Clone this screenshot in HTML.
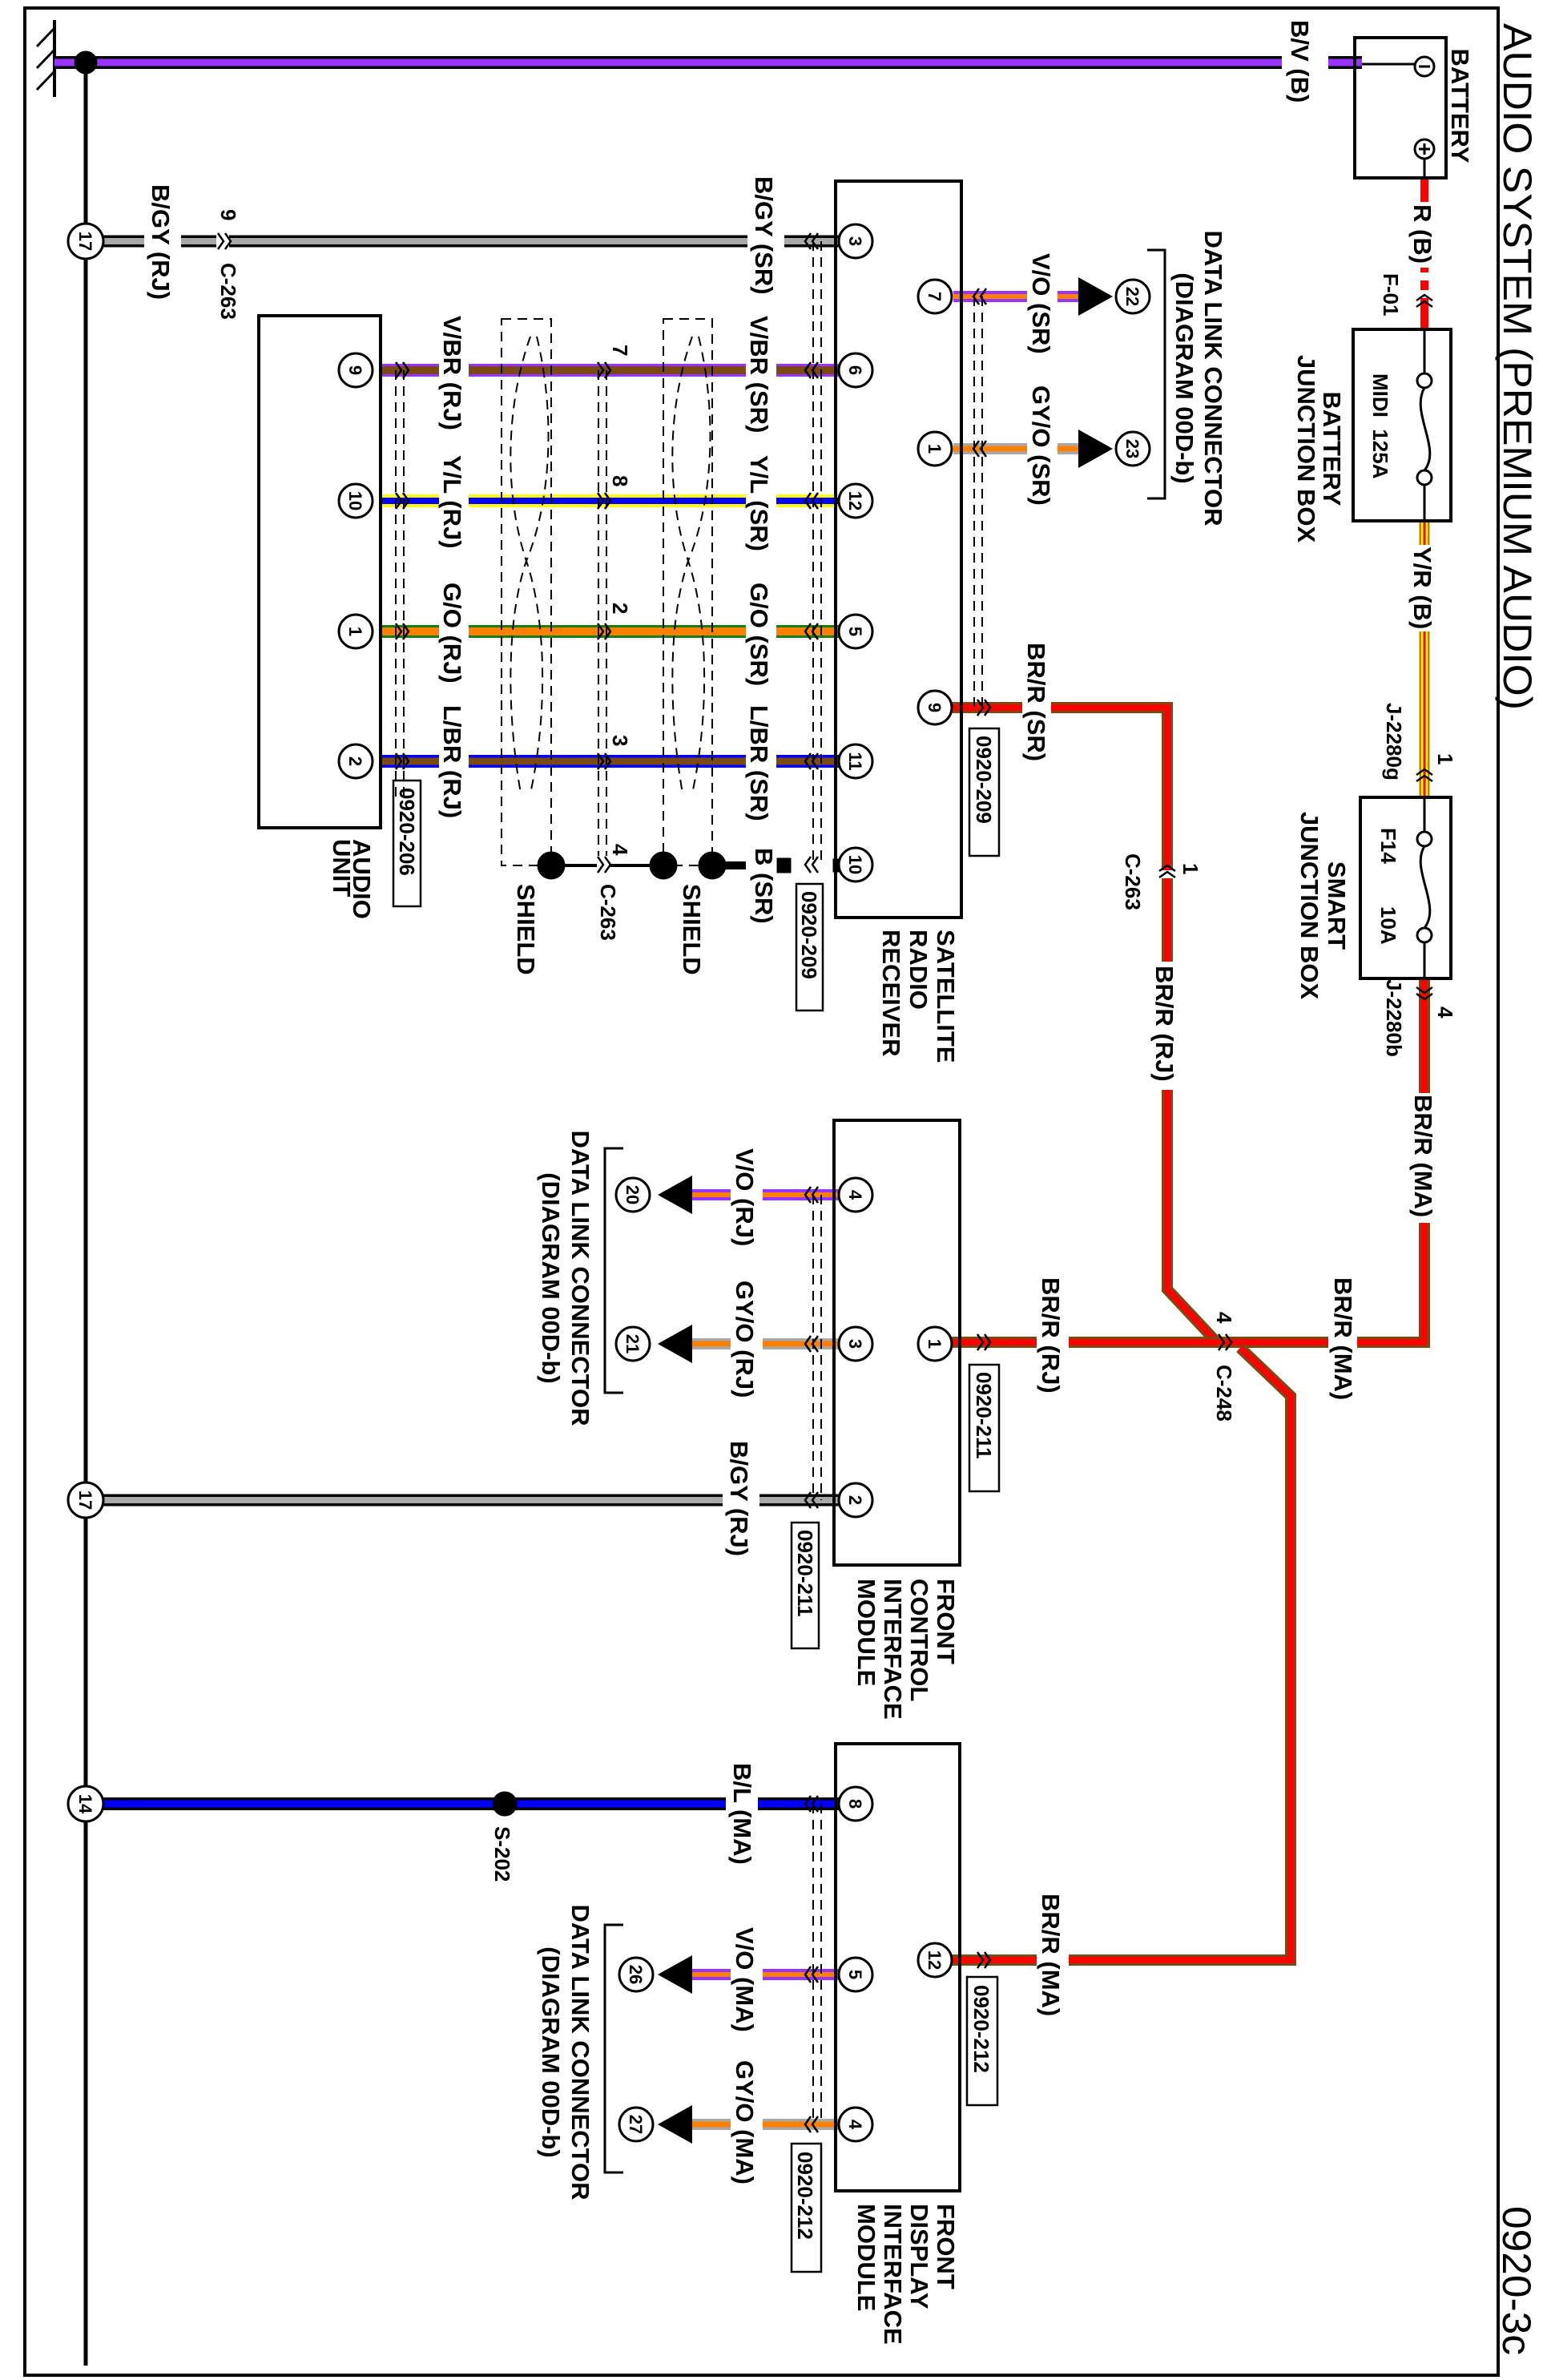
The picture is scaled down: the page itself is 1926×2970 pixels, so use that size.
<!DOCTYPE html>
<html><head><meta charset="utf-8"><style>
html,body{margin:0;padding:0;background:#fff}
svg{display:block}
text{font-family:"Liberation Sans",sans-serif;font-weight:bold;fill:#000}
.l{font-size:31px}
.s{font-size:26px}
.p{font-size:22px}
</style></head><body>
<svg width="1926" height="2970" viewBox="0 0 1926 2970" xmlns="http://www.w3.org/2000/svg">
<rect x="0" y="0" width="1926" height="2970" fill="#fff"/>
<rect x="31" y="10" width="1839" height="2954" fill="none" stroke="#000" stroke-width="4"/>

<!-- ground -->
<line x1="107" y1="78" x2="107" y2="2952" stroke="#000" stroke-width="5"/>
<line x1="68" y1="25" x2="68" y2="121" stroke="#000" stroke-width="4"/>
<g stroke="#000" stroke-width="3"><line x1="68" y1="35" x2="46" y2="58"/><line x1="68" y1="62" x2="46" y2="85"/><line x1="68" y1="89" x2="46" y2="112"/></g>

<!-- wires (outer then inner) -->
<g fill="none" stroke-linejoin="miter">
<!-- B/V -->
<path d="M68 78 H1700" stroke="#000" stroke-width="16"/><path d="M68 78 H1700" stroke="#9933ff" stroke-width="9"/>
<!-- B/GY top -->
<path d="M107 301 H1048" stroke="#000" stroke-width="15"/><path d="M107 301 H1048" stroke="#a8a8a8" stroke-width="8"/>
<!-- B/GY FCIM -->
<path d="M107 1872 H1048" stroke="#000" stroke-width="15"/><path d="M107 1872 H1048" stroke="#a8a8a8" stroke-width="8"/>
<!-- B/L -->
<path d="M107 2251 H1048" stroke="#000" stroke-width="16"/><path d="M107 2251 H1048" stroke="#0000ff" stroke-width="9"/>
<!-- pairs -->
<path d="M473 462 H1048" stroke="#9933ff" stroke-width="16"/><path d="M473 462 H1048" stroke="#7b4a12" stroke-width="10"/>
<path d="M473 625 H1048" stroke="#ffff00" stroke-width="16"/><path d="M473 625 H1048" stroke="#0000ff" stroke-width="8"/>
<path d="M473 788 H1048" stroke="#108010" stroke-width="16"/><path d="M473 788 H1048" stroke="#ff8000" stroke-width="10"/>
<path d="M473 950 H1048" stroke="#0000ff" stroke-width="16"/><path d="M473 950 H1048" stroke="#7b4a12" stroke-width="9"/>
<!-- data link wires -->
<path d="M1190 370 H1350" stroke="#9933ff" stroke-width="14"/><path d="M1190 370 H1350" stroke="#ff8000" stroke-width="6"/>
<path d="M1190 560 H1350" stroke="#a8a8a8" stroke-width="14"/><path d="M1190 560 H1350" stroke="#ff8000" stroke-width="7"/>
<path d="M860 1491 H1048" stroke="#9933ff" stroke-width="14"/><path d="M860 1491 H1048" stroke="#ff8000" stroke-width="6"/>
<path d="M860 1677 H1048" stroke="#a8a8a8" stroke-width="14"/><path d="M860 1677 H1048" stroke="#ff8000" stroke-width="7"/>
<path d="M860 2464 H1048" stroke="#9933ff" stroke-width="14"/><path d="M860 2464 H1048" stroke="#ff8000" stroke-width="6"/>
<path d="M860 2651 H1048" stroke="#a8a8a8" stroke-width="14"/><path d="M860 2651 H1048" stroke="#ff8000" stroke-width="7"/>
<!-- battery red, Y/R -->
<path d="M1778 222 V411" stroke="#ff0000" stroke-width="10"/>
<path d="M1778 650 V995" stroke="#c08000" stroke-width="13"/><path d="M1778 650 V995" stroke="#ffff00" stroke-width="8"/><path d="M1778 650 V995" stroke="#ff0000" stroke-width="3"/>
<!-- BR/R -->
<path d="M1188 883 H1457 V1609 L1516 1672" stroke="#7b4a12" stroke-width="14"/><path d="M1188 883 H1457 V1609 L1516 1672" stroke="#ff0000" stroke-width="8"/>
<path d="M1778 1221 V1675 H1188" stroke="#7b4a12" stroke-width="14"/><path d="M1778 1221 V1675 H1188" stroke="#ff0000" stroke-width="8"/>
<path d="M1548 1682 L1611 1742 V2446 H1188" stroke="#7b4a12" stroke-width="14"/><path d="M1548 1682 L1611 1742 V2446 H1188" stroke="#ff0000" stroke-width="8"/>
</g>

<!-- white gaps for labels -->
<g fill="#fff">
<rect x="1600" y="60" width="58" height="40"/>
<rect x="180" y="285" width="46" height="32"/><rect x="270" y="285" width="16" height="32"/>
<rect x="933" y="285" width="46" height="32"/>
<rect x="902" y="1856" width="46" height="32"/>
<rect x="906" y="2235" width="40" height="32"/>
<rect x="548" y="440" width="37" height="540"/>
<rect x="931" y="440" width="38" height="540"/>
<rect x="1282" y="355" width="38" height="30"/><rect x="1282" y="545" width="38" height="30"/>
<rect x="912" y="1476" width="40" height="30"/><rect x="912" y="1662" width="40" height="30"/>
<rect x="912" y="2449" width="40" height="30"/><rect x="912" y="2636" width="40" height="30"/>
<rect x="1760" y="252" width="36" height="82"/>
<rect x="1760" y="340" width="36" height="10"/><rect x="1760" y="362" width="36" height="10"/>
<rect x="1760" y="680" width="36" height="108"/>
<rect x="1760" y="1364" width="36" height="162"/>
<rect x="1276" y="866" width="36" height="34"/>
<rect x="1440" y="1200" width="34" height="160"/>
<rect x="1440" y="1086" width="34" height="10"/>
<rect x="1294" y="1658" width="40" height="34"/>
<rect x="1658" y="1658" width="36" height="34"/>
<rect x="1294" y="2429" width="40" height="34"/>
</g>

<!-- connector chevrons -->
<g fill="none" stroke="#000" stroke-width="2.5">
<path d="M494 452 l7 10 l-7 10 M503 452 l7 10 l-7 10"/>
<path d="M494 615 l7 10 l-7 10 M503 615 l7 10 l-7 10"/>
<path d="M494 778 l7 10 l-7 10 M503 778 l7 10 l-7 10"/>
<path d="M494 940 l7 10 l-7 10 M503 940 l7 10 l-7 10"/>
<path d="M746 452 l7 10 l-7 10 M755 452 l7 10 l-7 10"/>
<path d="M746 615 l7 10 l-7 10 M755 615 l7 10 l-7 10"/>
<path d="M746 778 l7 10 l-7 10 M755 778 l7 10 l-7 10"/>
<path d="M746 940 l7 10 l-7 10 M755 940 l7 10 l-7 10"/>
<path d="M746 1069 l7 10 l-7 10 M755 1069 l7 10 l-7 10"/>
<path d="M1012 291 l-7 10 l7 10 M1021 291 l-7 10 l7 10"/>
<path d="M1012 452 l-7 10 l7 10 M1021 452 l-7 10 l7 10"/>
<path d="M1012 615 l-7 10 l7 10 M1021 615 l-7 10 l7 10"/>
<path d="M1012 778 l-7 10 l7 10 M1021 778 l-7 10 l7 10"/>
<path d="M1012 940 l-7 10 l7 10 M1021 940 l-7 10 l7 10"/>
<path d="M1012 1069 l-7 10 l7 10 M1021 1069 l-7 10 l7 10"/>
<path d="M1222 360 l-7 10 l7 10 M1231 360 l-7 10 l7 10"/>
<path d="M1222 550 l-7 10 l7 10 M1231 550 l-7 10 l7 10"/>
<path d="M1220 873 l7 10 l-7 10 M1229 873 l7 10 l-7 10"/>
<path d="M1012 1481 l-7 10 l7 10 M1021 1481 l-7 10 l7 10"/>
<path d="M1012 1667 l-7 10 l7 10 M1021 1667 l-7 10 l7 10"/>
<path d="M1012 1862 l-7 10 l7 10 M1021 1862 l-7 10 l7 10"/>
<path d="M1220 1665 l7 10 l-7 10 M1229 1665 l7 10 l-7 10"/>
<path d="M1012 2241 l-7 10 l7 10 M1021 2241 l-7 10 l7 10"/>
<path d="M1012 2454 l-7 10 l7 10 M1021 2454 l-7 10 l7 10"/>
<path d="M1012 2641 l-7 10 l7 10 M1021 2641 l-7 10 l7 10"/>
<path d="M1220 2436 l7 10 l-7 10 M1229 2436 l7 10 l-7 10"/>
<path d="M272 291 l7 10 l-7 10 M281 291 l7 10 l-7 10"/>
<path d="M1768 383 l10 -7 l10 7 M1768 375 l10 -7 l10 7"/>
<path d="M1768 975 l10 -7 l10 7 M1768 967 l10 -7 l10 7"/>
<path d="M1768 1232 l10 7 l10 -7 M1768 1240 l10 7 l10 -7"/>
<path d="M1447 1095 l10 -7 l10 7 M1447 1087 l10 -7 l10 7"/>
<path d="M1521 1665 l7 10 l-7 10 M1530 1665 l7 10 l-7 10"/>
</g>

<!-- dashed double lines -->
<g stroke="#000" stroke-width="2" stroke-dasharray="12,8" fill="none">
<path d="M494 462 V1000 M504 462 V1000"/>
<path d="M747 462 V1068 M757 462 V1068"/>
<path d="M1015 301 V1079 M1025 301 V1079"/>
<path d="M1216 370 V883 M1226 370 V883"/>
<path d="M1015 1491 V1872 M1025 1491 V1872"/>
<path d="M1015 2251 V2651 M1025 2251 V2651"/>
<rect x="626" y="398" width="62" height="682"/>
<rect x="828" y="398" width="61" height="682"/>
<path d="M662 420 C630 510,630 620,657 700 C684 780,682 900,662 990"/>
<path d="M670 420 C692 510,690 620,657 700 C630 780,634 900,650 990"/>
<path d="M864 420 C832 510,832 620,859 700 C886 780,884 900,864 990"/>
<path d="M872 420 C894 510,892 620,859 700 C832 780,836 900,852 990"/>
</g>
<!-- shields -->
<g fill="#000" stroke="#000">
<line x1="688" y1="1080" x2="745" y2="1080" stroke-width="4"/>
<line x1="762" y1="1080" x2="828" y2="1080" stroke-width="4"/>
<line x1="889" y1="1080" x2="931" y2="1080" stroke-width="10"/>
<rect x="970" y="1071" width="17" height="18"/>
<rect x="1040" y="1072" width="12" height="16"/>
<circle cx="688" cy="1080" r="17"/><circle cx="828" cy="1080" r="17"/><circle cx="889" cy="1080" r="17"/>
<circle cx="107" cy="78" r="14"/>
<circle cx="630" cy="2251" r="15"/>
</g>

<!-- boxes -->
<g fill="none" stroke="#000" stroke-width="4">
<rect x="323" y="394" width="152" height="639"/>
<rect x="1043" y="226" width="157" height="919"/>
<rect x="1041" y="1398" width="157" height="555"/>
<rect x="1043" y="2176" width="155" height="558"/>
<rect x="1691" y="47" width="114" height="175"/>
<rect x="1689" y="411" width="122" height="239"/>
<rect x="1698" y="995" width="113" height="226"/>
</g>
<g fill="none" stroke="#000" stroke-width="3">
<line x1="1700" y1="80" x2="1766" y2="80"/>
<circle cx="1778" cy="83" r="12"/><line x1="1771" y1="83" x2="1785" y2="83"/>
<circle cx="1778" cy="186" r="12"/><line x1="1771" y1="186" x2="1785" y2="186"/><line x1="1778" y1="179" x2="1778" y2="193"/>
<line x1="1778" y1="198" x2="1778" y2="222"/>
<path d="M1778 411 V466 M1778 605 V650"/><circle cx="1778" cy="475" r="9"/><circle cx="1778" cy="596" r="9"/>
<path d="M1778 484 C1760 515,1800 560,1778 587"/>
<path d="M1778 995 V1038 M1778 1176 V1221"/><circle cx="1778" cy="1047" r="9"/><circle cx="1778" cy="1167" r="9"/>
<path d="M1778 1056 C1760 1085,1800 1130,1778 1158"/>
<path d="M1432 312 H1454 V622 H1432"/>
<path d="M778 1433 H755 V1738 H778"/>
<path d="M778 2402 H755 V2711 H778"/>
<rect x="1210" y="909" width="37" height="159" stroke-width="2.5"/>
<rect x="994" y="1103" width="33" height="158" stroke-width="2.5"/>
<rect x="491" y="974" width="34" height="157" stroke-width="2.5"/>
<rect x="1210" y="1703" width="37" height="158" stroke-width="2.5"/>
<rect x="988" y="1900" width="34" height="157" stroke-width="2.5"/>
<rect x="1207" y="2467" width="38" height="160" stroke-width="2.5"/>
<rect x="988" y="2675" width="37" height="160" stroke-width="2.5"/>
</g>

<!-- triangles -->
<g fill="#000">
<polygon points="1346,346 1346,394 1389,370"/>
<polygon points="1346,536 1346,584 1389,560"/>
<polygon points="864,1467 864,1515 821,1491"/>
<polygon points="864,1653 864,1701 821,1677"/>
<polygon points="864,2440 864,2488 821,2464"/>
<polygon points="864,2627 864,2675 821,2651"/>
</g>

<!-- pin circles -->
<g fill="#fff" stroke="#000" stroke-width="3">
<circle cx="1068" cy="301" r="21"/><circle cx="1068" cy="462" r="21"/><circle cx="1068" cy="625" r="21"/><circle cx="1068" cy="788" r="21"/><circle cx="1068" cy="950" r="21"/><circle cx="1068" cy="1079" r="21"/>
<circle cx="1167" cy="370" r="21"/><circle cx="1167" cy="560" r="21"/><circle cx="1167" cy="883" r="21"/>
<circle cx="444" cy="462" r="21"/><circle cx="444" cy="625" r="21"/><circle cx="444" cy="788" r="21"/><circle cx="444" cy="950" r="21"/>
<circle cx="1414" cy="370" r="21"/><circle cx="1414" cy="560" r="21"/>
<circle cx="1068" cy="1491" r="21"/><circle cx="1068" cy="1677" r="21"/><circle cx="1068" cy="1872" r="21"/><circle cx="1167" cy="1677" r="21"/>
<circle cx="790" cy="1491" r="21"/><circle cx="790" cy="1677" r="21"/>
<circle cx="1068" cy="2251" r="21"/><circle cx="1068" cy="2464" r="21"/><circle cx="1068" cy="2651" r="21"/><circle cx="1167" cy="2446" r="21"/>
<circle cx="794" cy="2464" r="21"/><circle cx="794" cy="2651" r="21"/>
<circle cx="107" cy="301" r="22"/><circle cx="107" cy="1872" r="22"/><circle cx="107" cy="2251" r="22"/>
</g>
<g class="p" text-anchor="middle">
<text class="p" transform="translate(1060,301) rotate(90)">3</text>
<text class="p" transform="translate(1060,462) rotate(90)">6</text>
<text class="p" transform="translate(1060,625) rotate(90)">12</text>
<text class="p" transform="translate(1060,788) rotate(90)">5</text>
<text class="p" transform="translate(1060,950) rotate(90)">11</text>
<text class="p" transform="translate(1060,1079) rotate(90)">10</text>
<text class="p" transform="translate(1159,370) rotate(90)">7</text>
<text class="p" transform="translate(1159,560) rotate(90)">1</text>
<text class="p" transform="translate(1159,883) rotate(90)">9</text>
<text class="p" transform="translate(436,462) rotate(90)">9</text>
<text class="p" transform="translate(436,625) rotate(90)">10</text>
<text class="p" transform="translate(436,788) rotate(90)">1</text>
<text class="p" transform="translate(436,950) rotate(90)">2</text>
<text class="p" transform="translate(1406,370) rotate(90)">22</text>
<text class="p" transform="translate(1406,560) rotate(90)">23</text>
<text class="p" transform="translate(1060,1491) rotate(90)">4</text>
<text class="p" transform="translate(1060,1677) rotate(90)">3</text>
<text class="p" transform="translate(1060,1872) rotate(90)">2</text>
<text class="p" transform="translate(1159,1677) rotate(90)">1</text>
<text class="p" transform="translate(782,1491) rotate(90)">20</text>
<text class="p" transform="translate(782,1677) rotate(90)">21</text>
<text class="p" transform="translate(1060,2251) rotate(90)">8</text>
<text class="p" transform="translate(1060,2464) rotate(90)">5</text>
<text class="p" transform="translate(1060,2651) rotate(90)">4</text>
<text class="p" transform="translate(1159,2446) rotate(90)">12</text>
<text class="p" transform="translate(786,2464) rotate(90)">26</text>
<text class="p" transform="translate(786,2651) rotate(90)">27</text>
<text class="p" transform="translate(99,301) rotate(90)">17</text>
<text class="p" transform="translate(99,1872) rotate(90)">17</text>
<text class="p" transform="translate(99,2251) rotate(90)">14</text>
</g>

<!-- labels -->
<g class="l">
<text class="l" transform="translate(1612,25) rotate(90)">B/V (B)</text>
<text class="l" transform="translate(1765,255) rotate(90)">R (B)</text>
<text class="l" transform="translate(1765,682) rotate(90)">Y/R (B)</text>
<text class="l" transform="translate(1766,1366) rotate(90)">BR/R (MA)</text>
<text class="l" transform="translate(1666,1594) rotate(90)">BR/R (MA)</text>
<text class="l" transform="translate(1283,802) rotate(90)">BR/R (SR)</text>
<text class="l" transform="translate(1443,1205) rotate(90)">BR/R (RJ)</text>
<text class="l" transform="translate(1301,1594) rotate(90)">BR/R (RJ)</text>
<text class="l" transform="translate(1301,2363) rotate(90)">BR/R (MA)</text>
<text class="l" transform="translate(943,220) rotate(90)">B/GY (SR)</text>
<text class="l" transform="translate(190,230) rotate(90)">B/GY (RJ)</text>
<text class="l" transform="translate(1289,316) rotate(90)">V/O (SR)</text>
<text class="l" transform="translate(1289,481) rotate(90)">GY/O (SR)</text>
<text class="l" transform="translate(937,394) rotate(90)">V/BR (SR)</text>
<text class="l" transform="translate(937,568) rotate(90)">Y/L (SR)</text>
<text class="l" transform="translate(937,727) rotate(90)">G/O (SR)</text>
<text class="l" transform="translate(937,880) rotate(90)">L/BR (SR)</text>
<text class="l" transform="translate(554,394) rotate(90)">V/BR (RJ)</text>
<text class="l" transform="translate(554,568) rotate(90)">Y/L (RJ)</text>
<text class="l" transform="translate(554,727) rotate(90)">G/O (RJ)</text>
<text class="l" transform="translate(554,880) rotate(90)">L/BR (RJ)</text>
<text class="l" transform="translate(943,1058) rotate(90)">B (SR)</text>
<text class="l" transform="translate(646,1103) rotate(90)">SHIELD</text>
<text class="l" transform="translate(853,1103) rotate(90)">SHIELD</text>
<text class="l" transform="translate(919,1433) rotate(90)">V/O (RJ)</text>
<text class="l" transform="translate(919,1598) rotate(90)">GY/O (RJ)</text>
<text class="l" transform="translate(912,1798) rotate(90)">B/GY (RJ)</text>
<text class="l" transform="translate(916,2200) rotate(90)">B/L (MA)</text>
<text class="l" transform="translate(919,2405) rotate(90)">V/O (MA)</text>
<text class="l" transform="translate(919,2571) rotate(90)">GY/O (MA)</text>

<text class="l" text-anchor="middle" transform="translate(1504,472) rotate(90)">DATA LINK CONNECTOR</text>
<text class="l" text-anchor="middle" transform="translate(1468,472) rotate(90)">(DIAGRAM 00D-b)</text>
<text class="l" text-anchor="middle" transform="translate(714,1595) rotate(90)">DATA LINK CONNECTOR</text>
<text class="l" text-anchor="middle" transform="translate(677,1595) rotate(90)">(DIAGRAM 00D-b)</text>
<text class="l" text-anchor="middle" transform="translate(714,2561) rotate(90)">DATA LINK CONNECTOR</text>
<text class="l" text-anchor="middle" transform="translate(677,2561) rotate(90)">(DIAGRAM 00D-b)</text>

<text class="l" text-anchor="middle" transform="translate(1812,132) rotate(90)">BATTERY</text>
<text class="l" text-anchor="middle" transform="translate(1652,560) rotate(90)">BATTERY</text>
<text class="l" text-anchor="middle" transform="translate(1620,560) rotate(90)">JUNCTION BOX</text>
<text class="l" text-anchor="middle" transform="translate(1658,1130) rotate(90)">SMART</text>
<text class="l" text-anchor="middle" transform="translate(1624,1130) rotate(90)">JUNCTION BOX</text>

<text class="l" transform="translate(1170,1160) rotate(90)">SATELLITE</text>
<text class="l" transform="translate(1136,1160) rotate(90)">RADIO</text>
<text class="l" transform="translate(1102,1160) rotate(90)">RECEIVER</text>
<text class="l" transform="translate(441,1047) rotate(90)">AUDIO</text>
<text class="l" transform="translate(416,1047) rotate(90)">UNIT</text>
<text class="l" transform="translate(1170,1970) rotate(90)">FRONT</text>
<text class="l" transform="translate(1137,1970) rotate(90)">CONTROL</text>
<text class="l" transform="translate(1104,1970) rotate(90)">INTERFACE</text>
<text class="l" transform="translate(1071,1970) rotate(90)">MODULE</text>
<text class="l" transform="translate(1170,2750) rotate(90)">FRONT</text>
<text class="l" transform="translate(1137,2750) rotate(90)">DISPLAY</text>
<text class="l" transform="translate(1104,2750) rotate(90)">INTERFACE</text>
<text class="l" transform="translate(1071,2750) rotate(90)">MODULE</text>
</g>
<g class="s">
<text class="s" transform="translate(1727,341) rotate(90)">F-01</text>
<text class="s" transform="translate(1731,877) rotate(90)">J-2280g</text>
<text class="s" transform="translate(1731,1222) rotate(90)">J-2280b</text>
<text class="s" transform="translate(1795,940) rotate(90)">1</text>
<text class="s" transform="translate(1795,1256) rotate(90)">4</text>
<text class="s" transform="translate(1519,1703) rotate(90)">C-248</text>
<text class="s" transform="translate(1519,1637) rotate(90)">4</text>
<text class="s" transform="translate(1405,1065) rotate(90)">C-263</text>
<text class="s" transform="translate(1477,1077) rotate(90)">1</text>
<text class="s" transform="translate(276,261) rotate(90)">9</text>
<text class="s" transform="translate(276,328) rotate(90)">C-263</text>
<text class="s" transform="translate(765,430) rotate(90)">7</text>
<text class="s" transform="translate(765,593) rotate(90)">8</text>
<text class="s" transform="translate(765,752) rotate(90)">2</text>
<text class="s" transform="translate(765,917) rotate(90)">3</text>
<text class="s" transform="translate(765,1053) rotate(90)">4</text>
<text class="s" transform="translate(750,1103) rotate(90)">C-263</text>
<text class="s" transform="translate(618,2279) rotate(90)">S-202</text>
<text class="s" transform="translate(1714,466) rotate(90)">MIDI&#160;&#160;125A</text>
<text class="s" transform="translate(1724,1033) rotate(90)">F14</text>
<text class="s" transform="translate(1724,1131) rotate(90)">10A</text>
<text class="s" transform="translate(1219,918) rotate(90)">0920-209</text>
<text class="s" transform="translate(1001,1112) rotate(90)">0920-209</text>
<text class="s" transform="translate(499,983) rotate(90)">0920-206</text>
<text class="s" transform="translate(1219,1712) rotate(90)">0920-211</text>
<text class="s" transform="translate(996,1909) rotate(90)">0920-211</text>
<text class="s" transform="translate(1216,2477) rotate(90)">0920-212</text>
<text class="s" transform="translate(996,2685) rotate(90)">0920-212</text>
</g>
<text transform="translate(1877,29) rotate(90)" style="font-size:50px;font-weight:normal" textLength="857" lengthAdjust="spacingAndGlyphs">AUDIO SYSTEM (PREMIUM AUDIO)</text>
<text transform="translate(1876,2753) rotate(90)" style="font-size:50px;font-weight:normal" textLength="186" lengthAdjust="spacingAndGlyphs">0920-3c</text>
</svg>
</body></html>
